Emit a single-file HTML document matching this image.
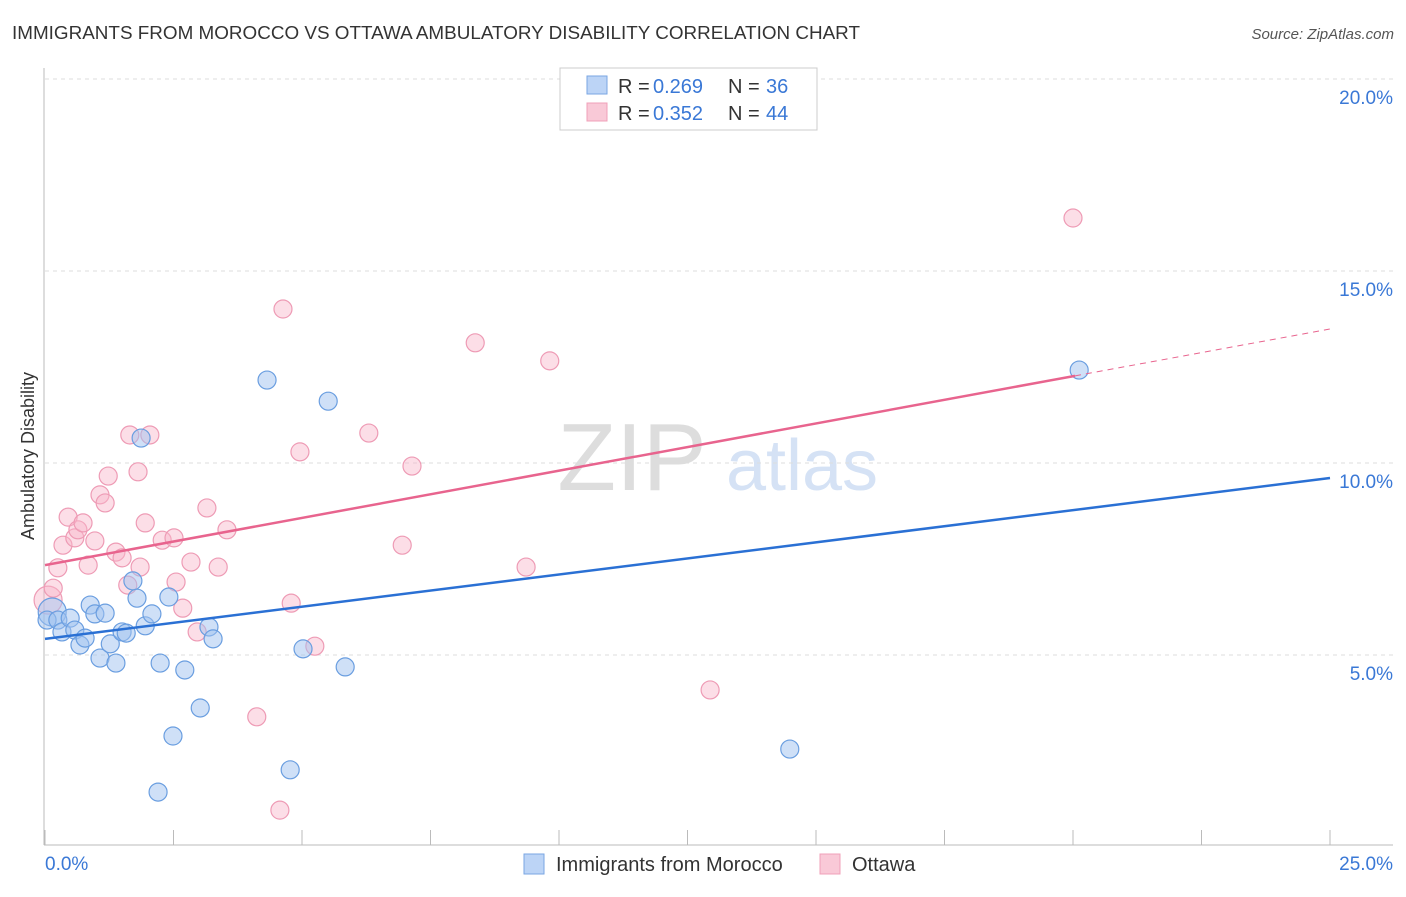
<!DOCTYPE html>
<html><head><meta charset="utf-8"><style>
body{margin:0;background:#fff;font-family:"Liberation Sans",sans-serif}
svg text{font-family:"Liberation Sans",sans-serif}
</style></head><body>
<svg id="chart" width="1406" height="892" xmlns="http://www.w3.org/2000/svg">
<text x="12" y="39" font-size="18" fill="#333" textLength="848" lengthAdjust="spacingAndGlyphs">IMMIGRANTS FROM MOROCCO VS OTTAWA AMBULATORY DISABILITY CORRELATION CHART</text>
<text x="1394" y="39" font-size="15" fill="#555" text-anchor="end" font-style="italic">Source: ZipAtlas.com</text>
<g>
<text x="632" y="490" font-size="96" fill="#ddd" text-anchor="middle" font-family="Liberation Serif,serif">ZIP</text>
<text x="802" y="490" font-size="72" fill="#d5e2f5" text-anchor="middle">atlas</text>
</g>
<g id="grid"></g>
<g id="axes"></g>
<g id="marks"></g>
<text transform="translate(34,456) rotate(-90)" font-size="18" fill="#333" text-anchor="middle">Ambulatory Disability</text>
<g>
<rect x="560" y="68" width="257" height="62" fill="#fff" stroke="#ccc"/>
<rect x="587" y="76" width="20" height="18" fill="#bcd4f6" stroke="#7aa6e3"/>
<rect x="587" y="103" width="20" height="18" fill="#f9c9d7" stroke="#f0a0b8"/>
<text x="618" y="93" font-size="20" fill="#333">R =</text><text x="653" y="93" font-size="20" fill="#3a78d6">0.269</text>
<text x="728" y="93" font-size="20" fill="#333">N =</text><text x="766" y="93" font-size="20" fill="#3a78d6">36</text>
<text x="618" y="120" font-size="20" fill="#333">R =</text><text x="653" y="120" font-size="20" fill="#3a78d6">0.352</text>
<text x="728" y="120" font-size="20" fill="#333">N =</text><text x="766" y="120" font-size="20" fill="#3a78d6">44</text>
</g>
<g>
<rect x="524" y="854" width="20" height="20" fill="#bcd4f6" stroke="#7aa6e3"/>
<text x="556" y="871" font-size="20" fill="#333">Immigrants from Morocco</text>
<rect x="820" y="854" width="20" height="20" fill="#f9c9d7" stroke="#f0a0b8"/>
<text x="852" y="871" font-size="20" fill="#333">Ottawa</text>
</g>
</svg>
<script>
const blueX=[0.14,0.04,0.25,0.33,0.49,0.58,0.68,0.78,0.88,0.97,1.07,1.17,1.27,1.38,1.50,1.58,1.71,1.79,1.87,1.95,2.08,2.20,2.24,2.41,2.49,2.72,3.02,3.19,3.27,4.32,4.77,5.02,5.51,5.84,14.49,20.12];
const blueY=[6.12,5.91,5.91,5.60,5.96,5.65,5.26,5.44,6.30,6.07,4.92,6.09,5.29,4.79,5.60,5.57,6.93,6.48,10.65,5.76,6.07,1.43,4.79,6.51,2.89,4.61,3.62,5.73,5.42,12.16,2.01,5.16,11.61,4.69,2.55,12.42];
const pinkX=[0.06,0.16,0.25,0.35,0.45,0.58,0.64,0.74,0.84,0.97,1.07,1.17,1.23,1.38,1.50,1.61,1.65,1.81,1.85,1.95,2.04,2.28,2.51,2.55,2.68,2.84,2.96,3.15,3.37,3.54,4.12,4.57,4.63,4.79,4.96,5.25,6.30,6.95,7.14,8.37,9.36,9.82,12.94,20.00];
const pinkY=[6.43,6.74,7.27,7.86,8.59,8.05,8.26,8.44,7.34,7.97,9.17,8.96,9.66,7.68,7.53,6.82,10.73,9.77,7.29,8.44,10.73,7.99,8.05,6.90,6.22,7.42,5.60,8.83,7.29,8.26,3.39,0.96,14.01,6.35,10.29,5.23,10.78,7.86,9.92,13.13,7.29,12.66,4.09,16.38];
const blueTrend=[5.42,9.61];
const pinkTrend=[7.34,13.49];
const pinkSolidEnd=20.04;
const yTicks=[5,10,15,20];
const yTickLabels=["5.0%","10.0%","15.0%","20.0%"];
const xTicks=[0,2.5,5,7.5,10,12.5,15,17.5,20,22.5,25];
const NS="http://www.w3.org/2000/svg";
const X=v=>45+v/25*1285, Y=v=>847-v/5*192;
function mk(par,tag,at){const e=document.createElementNS(NS,tag);for(const k in at)e.setAttribute(k,at[k]);document.getElementById(par).appendChild(e);return e;}
yTicks.forEach((t,i)=>{
 const l=mk('grid','line',{x1:45,x2:1393,y1:Y(t),y2:Y(t),stroke:'#ddd','stroke-dasharray':'4,4'});
 
 
 const tx=mk('grid','text',{x:1393,y:Y(t)+25,'font-size':19,fill:'#3a78d6','text-anchor':'end'});
 tx.textContent=yTickLabels[i];
 
 
});
let ax=mk('axes','line',{x1:44,x2:44,y1:68,y2:845,stroke:'#bbb'});


ax=mk('axes','line',{x1:44,x2:1393,y1:845,y2:845,stroke:'#bbb'});


xTicks.forEach(t=>{
 const l=mk('axes','line',{x1:X(t),x2:X(t),y1:830,y2:845,stroke:'#bbb'});
 
 
});
let t0=mk('axes','text',{x:45,y:870,'font-size':19,fill:'#3a78d6'});t0.textContent='0.0%';


let t1=mk('axes','text',{x:1393,y:870,'font-size':19,fill:'#3a78d6','text-anchor':'end'});t1.textContent='25.0%';


function pts(xs,ys,fill,stroke,name){xs.forEach((x,i)=>{
 const c=mk('marks','circle',{cx:X(x),cy:Y(ys[i]),r:(i===0&&x<0.2)?14:9,fill:fill,stroke:stroke,'stroke-width':1.2});
 
 
});}
pts(pinkX,pinkY,'rgba(248,182,202,0.45)','#ee9bb5','ottawa-point');
pts(blueX,blueY,'rgba(160,194,240,0.5)','#6a9ee0','morocco-point');
const pk=v=>pinkTrend[0]+(pinkTrend[1]-pinkTrend[0])*v/25;
let tl=mk('marks','line',{x1:X(0),y1:Y(blueTrend[0]),x2:X(25),y2:Y(blueTrend[1]),stroke:'#2a70d4','stroke-width':2.5});


tl=mk('marks','line',{x1:X(0),y1:Y(pk(0)),x2:X(pinkSolidEnd),y2:Y(pk(pinkSolidEnd)),stroke:'#e8648e','stroke-width':2.5});


tl=mk('marks','line',{x1:X(pinkSolidEnd),y1:Y(pk(pinkSolidEnd)),x2:X(25),y2:Y(pk(25)),stroke:'#e8648e','stroke-width':1,'stroke-dasharray':'6,5'});


</script>
</body></html>
